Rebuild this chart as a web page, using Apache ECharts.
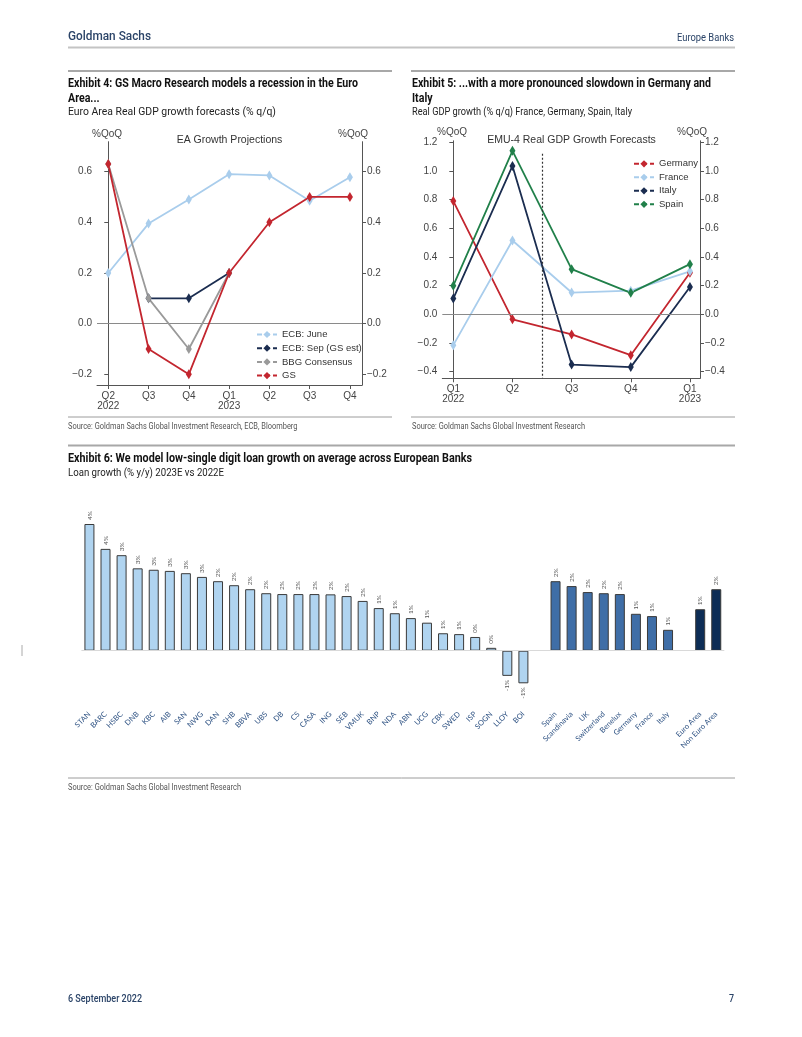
<!DOCTYPE html>
<html><head><meta charset="utf-8">
<script src="https://cdn.jsdelivr.net/npm/echarts@6/dist/echarts.min.js"></script>
<style>html,body{margin:0;padding:0;background:#fff}#c{width:802px;height:1037px}</style>
</head><body><div id="c"></div>
<script>
// ---------- Exhibit 4 data ----------
const ex4Quarters = ['Q2\n2022','Q3','Q4','Q1\n2023','Q2','Q3','Q4'];
const ex4EcbJune = [0.20, 0.395, 0.49, 0.59, 0.585, 0.485, 0.578];
const ex4EcbSep  = [null, 0.10, 0.10, 0.20, null, null, null];
const ex4Bbg     = [0.63, 0.10, -0.10, 0.20, null, null, null];
const ex4Gs      = [0.63, -0.10, -0.20, 0.20, 0.40, 0.50, 0.50];
const ex4Ticks   = [-0.2, 0, 0.2, 0.4, 0.6];
const ex4Names   = ['ECB: June','ECB: Sep (GS est)','BBG Consensus','GS'];

// ---------- Exhibit 5 data ----------
const ex5Quarters = ['Q1\n2022','Q2','Q3','Q4','Q1\n2023'];
const ex5Germany = [0.79, -0.035, -0.14, -0.285, 0.29];
const ex5France  = [-0.215, 0.515, 0.152, 0.165, 0.30];
const ex5Italy   = [0.11, 1.035, -0.35, -0.368, 0.19];
const ex5Spain   = [0.20, 1.14, 0.315, 0.15, 0.35];
const ex5Ticks   = [-0.4, -0.2, 0, 0.2, 0.4, 0.6, 0.8, 1.0, 1.2];
const ex5Names   = ['Germany','France','Italy','Spain'];
const ex5ForecastStart = 1.5;
const ex5DividerTop = 1.12;

// ---------- Exhibit 6 data ----------
const bankNames = ['STAN','BARC','HSBC','DNB','KBC','AIB','SAN','NWG','DAN','SHB','BBVA','UBS','DB','CS','CASA','ING','SEB','VMUK','BNP','NDA','ABN','UCG','CBK','SWED','ISP','SOGN','LLOY','BOI'];
const bankValues = [4.43,3.56,3.34,2.88,2.83,2.79,2.71,2.58,2.43,2.29,2.15,2.01,1.98,1.98,1.98,1.97,1.91,1.74,1.49,1.31,1.14,0.98,0.61,0.58,0.48,0.10,-0.88,-1.14];
const regionNames = ['Spain','Scandinavia','UK','Switzerland','Benelux','Germany','France','Italy'];
const regionValues = [2.43,2.26,2.05,2.01,1.98,1.29,1.21,0.73];
const aggNames = ['Euro Area','Non Euro Area'];
const aggValues = [1.45,2.15];

// ---------- styling ----------
const C_LIGHT = '#a9cdec', C_NAVY = '#1b2d50', C_GRAY = '#9a9a9a', C_RED = '#c3262f', C_GREEN = '#21804a';
const BAR_LIGHT = '#b0d4f0', BAR_MID = '#3f6ea7', BAR_DARK = '#0d2d56';
const HEAD = '#2b4468';
const chartFont = 'Liberation Sans';

// build bar category list & data
const barCats = [], barData = [];
function pushGroup(names, values, color) {
  names.forEach((n, i) => {
    barCats.push(n);
    const v = values[i];
    barData.push({ value: v, itemStyle: { color }, label: { align: v < 0 ? 'right' : 'left' } });
  });
}
pushGroup(bankNames, bankValues, BAR_LIGHT);
barCats.push(''); barData.push(null);
pushGroup(regionNames, regionValues, BAR_MID);
barCats.push(' '); barData.push(null);
pushGroup(aggNames, aggValues, BAR_DARK);

// text fitting helper (condensed report font imitation)
const mctx = document.createElement('canvas').getContext('2d');
function scaleFor(text, font, width) { mctx.font = font; return width / mctx.measureText(text).width; }
function txt(text, x, y, font, fill, sx, align) {
  return { type: 'text', x, y, scaleX: sx || 1, silent: true,
    style: { text, font, fill, textAlign: align || 'left', align: align || 'left', textVerticalAlign: 'middle', verticalAlign: 'middle' } };
}
function hline(x1, x2, y, color, w) {
  return { type: 'line', silent: true, shape: { x1, y1: y, x2, y2: y }, style: { stroke: color, lineWidth: w } };
}
const F_TITLE = 'bold 12px Roboto', F_SUB = '11.5px Roboto', F_SRC = '8.5px Roboto';
const s4 = scaleFor('Exhibit 4: GS Macro Research models a recession in the Euro', F_TITLE, 290);
const s5 = scaleFor('Exhibit 5: ...with a more pronounced slowdown in Germany and', F_TITLE, 299);
const s6 = scaleFor('Exhibit 6: We model low-single digit loan growth on average across European Banks', F_TITLE, 404);
const sSrc = scaleFor('Source: Goldman Sachs Global Investment Research', F_SRC, 173);

const graphics = [
  txt('Goldman Sachs', 68, 37, '500 13.5px Roboto', HEAD, scaleFor('Goldman Sachs', '500 13.5px Roboto', 83)),
  txt('Europe Banks', 734, 38, '11px Roboto', HEAD, scaleFor('Europe Banks', '11px Roboto', 57), 'right'),
  hline(68, 735, 47.5, '#c4c4c4', 2),
  hline(68, 392, 71, '#a8a8a8', 2),
  hline(411, 735, 71, '#a8a8a8', 2),
  txt('Exhibit 4: GS Macro Research models a recession in the Euro', 68, 84, F_TITLE, '#111', s4),
  txt('Area...', 68, 99, F_TITLE, '#111', s4),
  txt('Euro Area Real GDP growth forecasts (% q/q)', 68, 112, F_SUB, '#222', scaleFor('Euro Area Real GDP growth forecasts (% q/q)', F_SUB, 208)),
  txt('Exhibit 5: ...with a more pronounced slowdown in Germany and', 412, 84, F_TITLE, '#111', s5),
  txt('Italy', 412, 99, F_TITLE, '#111', s5),
  txt('Real GDP growth (% q/q) France, Germany, Spain, Italy', 412, 112, F_SUB, '#222', scaleFor('Real GDP growth (% q/q) France, Germany, Spain, Italy', F_SUB, 220)),
  hline(68, 392, 417, '#9c9c9c', 1),
  hline(411, 735, 417, '#9c9c9c', 1),
  txt('Source: Goldman Sachs Global Investment Research, ECB, Bloomberg', 68, 427, F_SRC, '#555', sSrc),
  txt('Source: Goldman Sachs Global Investment Research', 412, 427, F_SRC, '#555', sSrc),
  hline(68, 735, 445.5, '#a8a8a8', 2),
  txt('Exhibit 6: We model low-single digit loan growth on average across European Banks', 68, 458.5, F_TITLE, '#111', s6),
  txt('Loan growth (% y/y) 2023E vs 2022E', 68, 473, F_SUB, '#222', scaleFor('Loan growth (% y/y) 2023E vs 2022E', F_SUB, 156)),
  hline(68, 735, 778, '#9c9c9c', 1),
  txt('Source: Goldman Sachs Global Investment Research', 68, 788, F_SRC, '#555', sSrc),
  txt('6 September 2022', 68, 999, '500 10.5px Roboto', HEAD, scaleFor('6 September 2022', '500 10.5px Roboto', 74)),
  txt('7', 734, 999, '500 10.5px Roboto', HEAD, 0.85, 'right'),
  { type: 'line', silent: true, shape: { x1: 22, y1: 645, x2: 22, y2: 656 }, style: { stroke: '#aaa', lineWidth: 1 } },
  // chart-internal titles
  txt('%QoQ', 107, 134, '10px ' + chartFont, '#444', 1, 'center'),
  txt('%QoQ', 353, 134, '10px ' + chartFont, '#444', 1, 'center'),
  txt('EA Growth Projections', 229.5, 140.5, '10.5px ' + chartFont, '#333', 1, 'center'),
  txt('%QoQ', 452, 132, '10px ' + chartFont, '#444', 1, 'center'),
  txt('%QoQ', 692, 132, '10px ' + chartFont, '#444', 1, 'center'),
  txt('EMU-4 Real GDP Growth Forecasts', 571.5, 140.5, '10.5px ' + chartFont, '#333', 1, 'center')
];

const minus = v => (Math.abs(v) < 1e-9 ? '0.0' : v.toFixed(1).replace('-', '\u2212'));
const axisCol = '#555';
function yAx(grid, min, max, ticks, pos) {
  return { type: 'value', gridIndex: grid, min, max, position: pos,
    axisLine: { show: true, lineStyle: { color: axisCol, width: 1 } },
    axisTick: { show: true, length: 4, customValues: ticks, lineStyle: { color: axisCol } },
    axisLabel: { customValues: ticks, formatter: minus, fontSize: 10, color: '#444', margin: 5, fontFamily: chartFont },
    splitLine: { show: false } };
}
function xAx(grid, min, max, labels) {
  const idx = labels.map((_, i) => i);
  return { type: 'value', gridIndex: grid, min, max,
    axisLine: { show: true, onZero: false, lineStyle: { color: axisCol, width: 1 } },
    axisTick: { show: true, length: 4, customValues: idx, lineStyle: { color: axisCol } },
    axisLabel: { customValues: idx, formatter: v => labels[Math.round(v)], fontSize: 10, color: '#444', margin: 6, lineHeight: 10, fontFamily: chartFont },
    splitLine: { show: false } };
}
const pairs = arr => arr.map((v, i) => [i, v]);
function lineS(name, data, color, xi, yi, extra) {
  return Object.assign({ type: 'line', name, data: pairs(data), xAxisIndex: xi, yAxisIndex: yi,
    color, symbol: 'diamond', symbolSize: [6, 10], showSymbol: true, connectNulls: false,
    lineStyle: { width: 1.8, color }, itemStyle: { color }, animation: false }, extra || {});
}
const zeroLine = { silent: true, symbol: 'none', z: 1, label: { show: false },
  lineStyle: { color: '#8a8a8a', width: 1.2, type: 'solid' }, data: [{ yAxis: 0 }] };

const option = {
  backgroundColor: '#fff',
  animation: false,
  textStyle: { fontFamily: chartFont },
  graphic: graphics,
  grid: [
    { left: 97, top: 141.7, width: 265, height: 243.3 },
    { left: 442.3, top: 140.8, width: 257.7, height: 237.5 },
    { left: 81.4, top: 507.7, width: 642.9, height: 200.2 }
  ],
  xAxis: [
    xAx(0, -0.28, 6.3, ex4Quarters),
    xAx(1, -0.186, 4.17, ex5Quarters),
    { type: 'category', gridIndex: 2, data: barCats,
      axisLine: { show: false, onZero: false }, axisTick: { show: false },
      axisLabel: { interval: 0, rotate: 45, fontSize: 7.5, color: '#2e5283', margin: 5, fontFamily: 'Lato' } }
  ],
  yAxis: [
    yAx(0, -0.242, 0.718, ex4Ticks, 'left'),
    yAx(0, -0.242, 0.718, ex4Ticks, 'right'),
    yAx(1, -0.446, 1.21, ex5Ticks, 'left'),
    yAx(1, -0.446, 1.21, ex5Ticks, 'right'),
    { type: 'value', gridIndex: 2, min: -2, max: 5, show: false, splitLine: { show: false } }
  ],
  legend: [
    { data: ex4Names, orient: 'vertical', left: 256, top: 329.5, itemWidth: 20, itemHeight: 9, itemGap: 3.7, padding: 0,
      textStyle: { fontSize: 9.5, color: '#333', fontFamily: chartFont }, lineStyle: { type: [5, 3] } },
    { data: ex5Names, orient: 'vertical', left: 633, top: 158.8, itemWidth: 20, itemHeight: 9, itemGap: 3.5, padding: 0,
      textStyle: { fontSize: 9.5, color: '#333', fontFamily: chartFont }, lineStyle: { type: [5, 3] } }
  ],
  series: [
    lineS(ex4Names[0], ex4EcbJune, C_LIGHT, 0, 0, { markLine: zeroLine }),
    lineS(ex4Names[1], ex4EcbSep, C_NAVY, 0, 0),
    lineS(ex4Names[2], ex4Bbg, C_GRAY, 0, 0),
    lineS(ex4Names[3], ex4Gs, C_RED, 0, 0),
    lineS(ex5Names[0], ex5Germany, C_RED, 1, 2, { markLine: {
      silent: true, symbol: 'none', label: { show: false },
      lineStyle: { color: '#333', width: 1.2, type: [2, 2] },
      data: [{ yAxis: 0, lineStyle: { color: '#8a8a8a', width: 1.2, type: 'solid' } },
             [{ coord: [ex5ForecastStart, ex5DividerTop] }, { coord: [ex5ForecastStart, -0.446] }]] } }),
    lineS(ex5Names[1], ex5France, C_LIGHT, 1, 2),
    lineS(ex5Names[2], ex5Italy, C_NAVY, 1, 2),
    lineS(ex5Names[3], ex5Spain, C_GREEN, 1, 2),
    { type: 'bar', name: 'Loan growth', xAxisIndex: 2, yAxisIndex: 4, data: barData, barWidth: 10,
      itemStyle: { borderColor: '#3a3a3a', borderWidth: 1 },
      label: { show: true, position: 'outside', rotate: 90, verticalAlign: 'middle', distance: 4,
        fontSize: 6.5, color: '#555', fontFamily: 'Lato',
        formatter: p => Math.round(p.value) + '%' },
      markLine: { silent: true, symbol: 'none', label: { show: false },
        lineStyle: { color: '#d9d9d9', width: 1, type: 'solid' }, data: [{ yAxis: 0 }] } }
  ]
};
const chart = echarts.init(document.getElementById('c'), null, { renderer: 'canvas' });
chart.setOption(option);
</script>
</body></html>
